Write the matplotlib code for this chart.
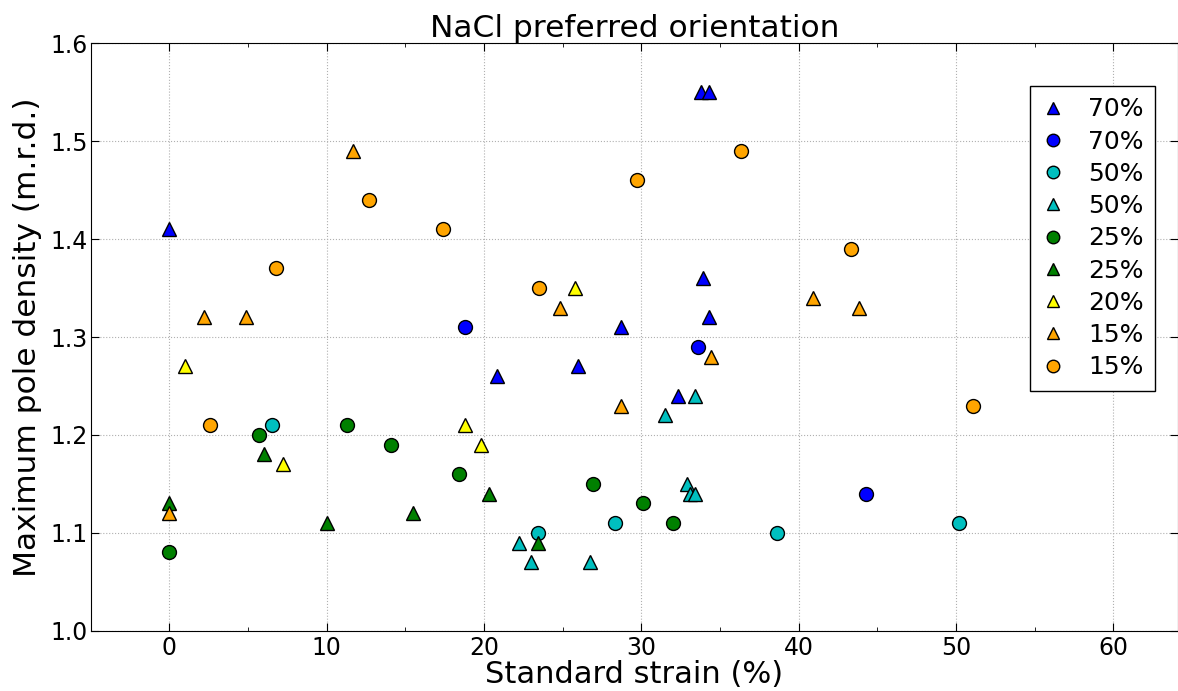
import matplotlib
matplotlib.use("Agg")
import matplotlib.pyplot as plt
from matplotlib.ticker import MultipleLocator

# Standard strain (%) and maximum pole density (m.r.d.) per sample group
tri70_x = [0.0, 33.8, 34.3, 33.9, 34.3, 28.7, 20.8, 26.0, 32.3]
tri70_y = [1.41, 1.55, 1.55, 1.36, 1.32, 1.31, 1.26, 1.27, 1.24]

cir70_x = [18.8, 33.6, 44.3]
cir70_y = [1.31, 1.29, 1.14]

cir50_x = [6.5, 23.4, 28.3, 38.6, 50.2]
cir50_y = [1.21, 1.10, 1.11, 1.10, 1.11]

tri50_x = [22.2, 23.0, 26.7, 31.5, 33.4, 32.9, 33.1, 33.4]
tri50_y = [1.09, 1.07, 1.07, 1.22, 1.24, 1.15, 1.14, 1.14]

cir25_x = [0.0, 5.7, 11.3, 14.1, 18.4, 26.9, 30.1, 32.0]
cir25_y = [1.08, 1.20, 1.21, 1.19, 1.16, 1.15, 1.13, 1.11]

tri25_x = [0.0, 6.0, 10.0, 15.5, 20.3, 23.4]
tri25_y = [1.13, 1.18, 1.11, 1.12, 1.14, 1.09]

tri20_x = [1.0, 7.2, 18.8, 19.8, 25.8]
tri20_y = [1.27, 1.17, 1.21, 1.19, 1.35]

tri15_x = [0.0, 2.2, 4.9, 11.7, 24.8, 28.7, 34.4, 40.9, 43.8]
tri15_y = [1.12, 1.32, 1.32, 1.49, 1.33, 1.23, 1.28, 1.34, 1.33]

cir15_x = [2.6, 6.8, 12.7, 17.4, 23.5, 29.7, 36.3, 43.3, 51.1]
cir15_y = [1.21, 1.37, 1.44, 1.41, 1.35, 1.46, 1.49, 1.39, 1.23]

series = [
    (tri70_x, tri70_y, "^", "#0000ff", "70%"),
    (cir70_x, cir70_y, "o", "#0000ff", "70%"),
    (cir50_x, cir50_y, "o", "#00bfbf", "50%"),
    (tri50_x, tri50_y, "^", "#00bfbf", "50%"),
    (cir25_x, cir25_y, "o", "#008000", "25%"),
    (tri25_x, tri25_y, "^", "#008000", "25%"),
    (tri20_x, tri20_y, "^", "#ffff00", "20%"),
    (tri15_x, tri15_y, "^", "#ffa500", "15%"),
    (cir15_x, cir15_y, "o", "#ffa500", "15%"),
]

fig = plt.figure(figsize=(11.78, 6.91), dpi=100)
ax = fig.add_axes([0.077, 0.0873, 0.923, 0.85])

for xs, ys, m, c, lab in series:
    ax.plot(xs, ys, linestyle="none", marker=m, markersize=10,
            markerfacecolor=c, markeredgecolor="black", markeredgewidth=1.0,
            label=lab)

ax.set_xlim(-5, 64.1)
ax.set_ylim(1.0, 1.6)
ax.xaxis.set_major_locator(MultipleLocator(10))
ax.xaxis.set_minor_locator(MultipleLocator(5))
ax.yaxis.set_major_locator(MultipleLocator(0.1))
ax.tick_params(which="both", direction="in", top=True, right=True,
               labelsize=17)
ax.tick_params(which="major", length=6)
ax.tick_params(which="minor", length=3)
ax.tick_params(axis="x", which="major", pad=3.5)
ax.tick_params(axis="y", which="major", pad=2)
ax.grid(True, which="major", linestyle=":", color="#b0b0b0", linewidth=0.8)

ax.set_xlabel("Standard strain (%)", fontsize=22, labelpad=0)
ax.set_ylabel("Maximum pole density (m.r.d.)", fontsize=22.5, labelpad=6)
ax.set_title("NaCl preferred orientation", fontsize=22.5, pad=4)

leg = ax.legend(loc="upper right", bbox_to_anchor=(0.979, 0.927),
                borderaxespad=0, numpoints=1, fontsize=18, fancybox=False,
                framealpha=1, edgecolor="black", handlelength=1.0,
                handletextpad=0.9, labelspacing=0.33, borderpad=0.45,
                markerscale=0.9)
leg.get_frame().set_linewidth(1.0)

fig.savefig("out.png", dpi=100)
